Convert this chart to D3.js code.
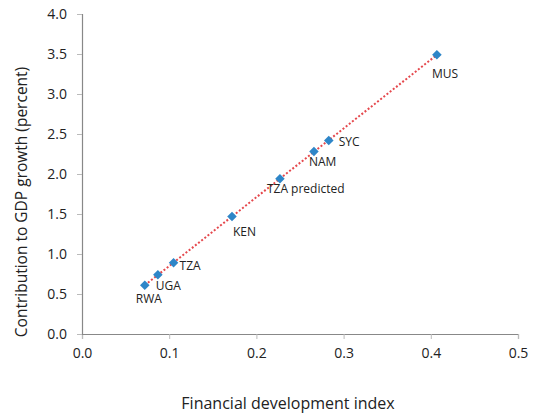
<!DOCTYPE html>
<html>
<head>
<meta charset="utf-8">
<script src="https://cdn.jsdelivr.net/npm/d3@7"></script>
<style>
  body { margin: 0; background: #fff; }
  text { font-family: "Open Sans", "DejaVu Sans", sans-serif; fill: #222; }
</style>
</head>
<body>
<svg id="chart" width="534" height="419"></svg>
<script>
// ── Data ─────────────────────────────────────────────────────────────
const countries = ['RWA', 'UGA', 'TZA', 'KEN', 'TZA predicted', 'NAM', 'SYC', 'MUS'];
const fdIndex   = [0.072, 0.087, 0.105, 0.172, 0.227, 0.266, 0.283, 0.407];
const gdpContrib = [0.61, 0.74, 0.89, 1.47, 1.94, 2.28, 2.42, 3.49];
// label offsets relative to point (dx, dy to baseline)
const labelDx = [-9, -2, 6, 1, -13, -5, 10, -5];
const labelDy = [18, 15, 7, 20, 14, 14, 6, 23];

const xTicks = [0, 0.1, 0.2, 0.3, 0.4, 0.5];
const yTicks = [0, 0.5, 1, 1.5, 2, 2.5, 3, 3.5, 4];

// ── Layout ───────────────────────────────────────────────────────────
const svg = d3.select('#chart');
const x = d3.scaleLinear().domain([0, 0.5]).range([82, 518]);
const y = d3.scaleLinear().domain([0, 4]).range([334, 14]);

const axisColor = '#888';

// ── Axes ─────────────────────────────────────────────────────────────
const xAxis = svg.append('g')
  .attr('transform', `translate(0,${y(0)})`)
  .call(d3.axisBottom(x).tickValues(xTicks).tickFormat(d3.format('.1f')).tickSize(5).tickPadding(9));
const yAxis = svg.append('g')
  .attr('transform', `translate(${x(0)},0)`)
  .call(d3.axisLeft(y).tickValues(yTicks).tickFormat(d3.format('.1f')).tickSize(5).tickPadding(10));

[xAxis, yAxis].forEach(a => {
  a.select('.domain').attr('stroke', axisColor).attr('stroke-width', 1.2);
  a.selectAll('.tick line').attr('stroke', '#bbb');
  a.selectAll('.tick text').attr('font-size', '14px')
    .attr('font-family', '"Open Sans", sans-serif').attr('fill', '#222');
});

// ── Trend line (least squares) ───────────────────────────────────────
const mx = d3.mean(fdIndex), my = d3.mean(gdpContrib);
const slope = d3.sum(fdIndex, (v, i) => (v - mx) * (gdpContrib[i] - my)) /
              d3.sum(fdIndex, v => (v - mx) * (v - mx));
const icpt = my - slope * mx;
const x0 = d3.min(fdIndex), x1 = d3.max(fdIndex);

svg.append('line')
  .attr('x1', x(x0)).attr('y1', y(icpt + slope * x0))
  .attr('x2', x(x1)).attr('y2', y(icpt + slope * x1))
  .attr('stroke', '#e5484d')
  .attr('stroke-width', 2)
  .attr('stroke-dasharray', '2,2');

// ── Points ───────────────────────────────────────────────────────────
const diamond = d3.symbol().type(d3.symbolDiamond2).size(58);
svg.append('g')
  .selectAll('path')
  .data(countries)
  .join('path')
    .attr('d', diamond)
    .attr('transform', (d, i) => `translate(${x(fdIndex[i])},${y(gdpContrib[i])})`)
    .attr('fill', '#2e86c8');

// ── Labels ───────────────────────────────────────────────────────────
svg.append('g')
  .selectAll('text')
  .data(countries)
  .join('text')
    .attr('x', (d, i) => x(fdIndex[i]) + labelDx[i])
    .attr('y', (d, i) => y(gdpContrib[i]) + labelDy[i])
    .attr('font-size', '12px')
    .text(d => d);

// ── Axis titles ──────────────────────────────────────────────────────
svg.append('text')
  .attr('x', 288).attr('y', 409)
  .attr('text-anchor', 'middle')
  .attr('font-size', '16px')
  .text('Financial development index');

svg.append('text')
  .attr('transform', 'translate(27,202) rotate(-90)')
  .attr('text-anchor', 'middle')
  .attr('font-size', '15.5px')
  .text('Contribution to GDP growth (percent)');
</script>
</body>
</html>
